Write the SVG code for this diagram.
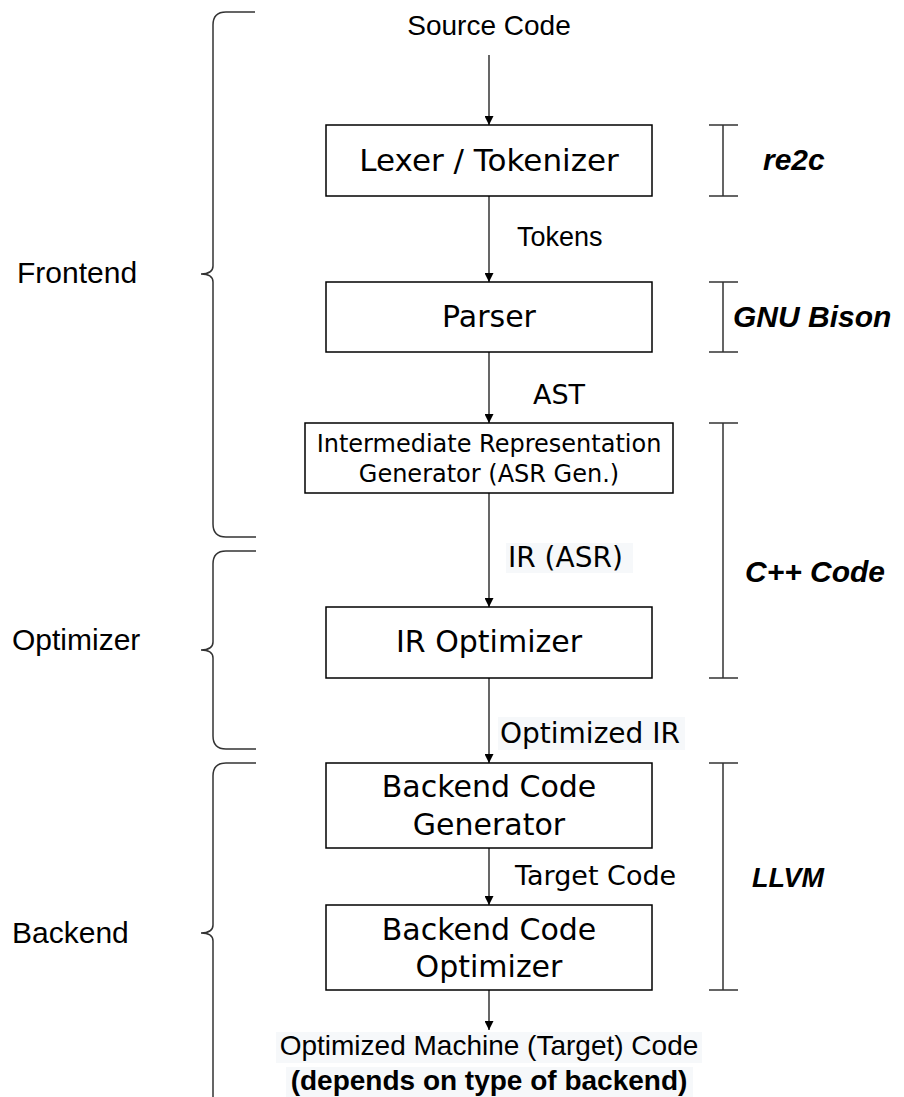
<svg xmlns="http://www.w3.org/2000/svg" width="904" height="1097" viewBox="0 0 904 1097">
<style>
.box{fill:#fff;stroke:#000;stroke-width:1.5}
.bt{font-family:"DejaVu Sans",Verdana,sans-serif;font-size:30px;fill:#000;text-anchor:middle}
.bs{font-family:"DejaVu Sans",Verdana,sans-serif;font-size:24px;fill:#000;text-anchor:middle}
.vl{font-family:"DejaVu Sans",Verdana,sans-serif;font-size:27px;fill:#000}
.vl2{font-family:"DejaVu Sans",Verdana,sans-serif;font-size:28px;fill:#000}
.hl{font-family:"Liberation Sans",Arial,sans-serif;fill:#000}
.bi{font-family:"Liberation Sans",Arial,sans-serif;font-weight:bold;font-style:italic;font-size:30px;fill:#000}
.con{stroke:#000;stroke-width:1.2;fill:none}
.br{stroke:#333;stroke-width:1.5;fill:none}
.lbg{fill:#f6f8fa}
</style>
<defs>
<marker id="ah" viewBox="0 0 10 10" refX="10" refY="5" markerWidth="9" markerHeight="9" markerUnits="userSpaceOnUse" orient="auto">
<path d="M0,0 L10,5 L0,10 Z" fill="#000"/>
</marker>
</defs>
<rect width="904" height="1097" fill="#fff"/>

<g id="braces">
<path class="br" d="M255,12 H226 Q213,12 213,25 V266 Q213,274 201,274 Q213,274 213,282 V524 Q213,537 226,537 H256"/>
<path class="br" d="M256,551 H226 Q213,551 213,564 V642 Q213,650 201,650 Q213,650 213,658 V736 Q213,749 226,749 H256"/>
<path class="br" d="M256,763 H226 Q213,763 213,776 V925 Q213,933 201,933 Q213,933 213,941 V1100"/>
<text class="hl" x="17" y="283" font-size="30">Frontend</text>
<text class="hl" x="12" y="650" font-size="30">Optimizer</text>
<text class="hl" x="12" y="943" font-size="30">Backend</text>
</g>

<g id="ibeams">
<path class="br" d="M709,125 H738 M723,125 V196 M709,196 H738"/>
<path class="br" d="M709,282 H738 M723,282 V352 M709,352 H738"/>
<path class="br" d="M709,423 H738 M723,423 V678 M709,678 H738"/>
<path class="br" d="M709,763 H738 M723,763 V990 M709,990 H738"/>
<text class="bi" x="763" y="170">re2c</text>
<text class="bi" x="733" y="327">GNU Bison</text>
<text class="bi" x="745" y="582">C++ Code</text>
<text class="bi" x="752" y="887" style="font-size:27px">LLVM</text>
</g>

<g id="connectors">
<line class="con" x1="489" y1="55" x2="489" y2="125" marker-end="url(#ah)"/>
<line class="con" x1="489" y1="196" x2="489" y2="282" marker-end="url(#ah)"/>
<line class="con" x1="489" y1="352" x2="489" y2="423" marker-end="url(#ah)"/>
<line class="con" x1="489" y1="493" x2="489" y2="607" marker-end="url(#ah)"/>
<line class="con" x1="489" y1="678" x2="489" y2="763" marker-end="url(#ah)"/>
<line class="con" x1="489" y1="848" x2="489" y2="905" marker-end="url(#ah)"/>
<line class="con" x1="489" y1="990" x2="489" y2="1030" marker-end="url(#ah)"/>
<text class="hl" x="517" y="246" font-size="27">Tokens</text>
<text class="vl" x="533" y="404">AST</text>
<rect class="lbg" x="506" y="543" width="127" height="30"/>
<text class="vl2" x="508" y="567">IR (ASR)</text>
<rect class="lbg" x="498" y="717" width="187" height="33"/>
<text class="vl2" x="500" y="743">Optimized IR</text>
<text class="vl" x="515" y="885">Target Code</text>
</g>

<g id="source">
<text class="hl" x="489" y="35" font-size="28" text-anchor="middle">Source Code</text>
</g>

<g id="lexer">
<rect class="box" x="326" y="125" width="326" height="71"/>
<text class="bt" x="489" y="171" style="font-size:31px">Lexer / Tokenizer</text>
</g>

<g id="parser">
<rect class="box" x="326" y="282" width="326" height="70"/>
<text class="bt" x="489" y="327">Parser</text>
</g>

<g id="irgen">
<rect class="box" x="305" y="423" width="368" height="70"/>
<text class="bs" x="489" y="452">Intermediate Representation</text>
<text class="bs" x="489" y="482">Generator (ASR Gen.)</text>
</g>

<g id="iropt">
<rect class="box" x="326" y="607" width="326" height="71"/>
<text class="bt" x="489" y="652">IR Optimizer</text>
</g>

<g id="backgen">
<rect class="box" x="326" y="763" width="326" height="85"/>
<text class="bt" x="489" y="797">Backend Code</text>
<text class="bt" x="489" y="835">Generator</text>
</g>

<g id="backopt">
<rect class="box" x="326" y="905" width="326" height="85"/>
<text class="bt" x="489" y="940">Backend Code</text>
<text class="bt" x="489" y="977">Optimizer</text>
</g>

<g id="output">
<rect class="lbg" x="276" y="1032" width="426" height="31"/>
<rect class="lbg" x="286" y="1067" width="407" height="30"/>
<text class="hl" x="489" y="1055" font-size="28" text-anchor="middle">Optimized Machine (Target) Code</text>
<text class="hl" x="489" y="1090" font-size="28" font-weight="bold" text-anchor="middle">(depends on type of backend)</text>
</g>
</svg>
